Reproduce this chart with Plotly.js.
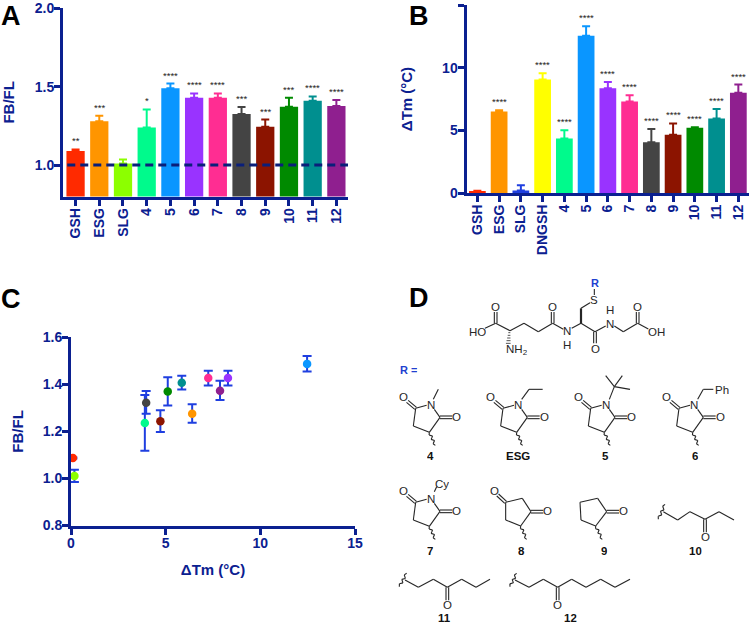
<!DOCTYPE html>
<html>
<head>
<meta charset="utf-8">
<script src="https://cdn.plot.ly/plotly-3.0.1.min.js"></script>
<style>html,body{margin:0;padding:0;background:#fff}#chart{width:750px;height:624px}</style>
</head>
<body>
<div id="chart"></div>
<script>
// ---------- data ----------
const labelsA = ['GSH','ESG','SLG','4','5','6','7','8','9','10','11','12'];
const fbFl    = [1.09,1.28,1.01,1.24,1.49,1.43,1.43,1.325,1.245,1.372,1.41,1.377];
const fbFlErr = [0.01,0.035,0.025,0.115,0.03,0.027,0.027,0.045,0.045,0.058,0.028,0.038];
const sigA    = ['**','***','','*','****','****','****','***','***','***','****','****'];
const colorsA = ['#ff2a00','#ff9500','#8cff00','#00fa8c','#0a96ff','#9933ff','#ff2d92','#444444','#8c1400','#008a00','#008f8f','#8f1f8f'];

const labelsB = ['GSH','ESG','SLG','DNGSH','4','5','6','7','8','9','10','11','12'];
const dTm     = [0.15,6.5,0.2,9.05,4.35,12.55,8.35,7.3,4.05,4.65,5.2,5.95,8.0];
const dTmErr  = [0.03,0.1,0.42,0.5,0.65,0.75,0.5,0.5,1.05,0.9,0.05,0.75,0.65];
const sigB    = ['','****','','****','****','****','****','****','****','****','****','****','****'];
const colorsB = ['#ff2a00','#ff9500','#1f3fe0','#ffff00','#00fa8c','#0a96ff','#9933ff','#ff2d92','#444444','#8c1400','#008a00','#008f8f','#8f1f8f'];

const xC      = [0.1,0.18,3.9,3.97,4.72,5.11,5.85,6.4,7.25,7.87,8.29,12.47];
const yC      = [1.087,1.01,1.236,1.322,1.243,1.37,1.407,1.275,1.427,1.373,1.427,1.487];
const yCUp    = [0.002,0.027,0.119,0.05,0.047,0.06,0.03,0.04,0.031,0.042,0.031,0.033];
const yCDown  = [0.002,0.025,0.118,0.047,0.046,0.06,0.029,0.038,0.032,0.04,0.032,0.032];
const colorsC = ['#ff2a00','#8cff00','#00fa8c','#444444','#8c1400','#008a00','#008f8f','#ff9500','#ff2d92','#8f1f8f','#9933ff','#0a96ff'];

// ---------- styles ----------
const FONT = '"Liberation Sans", Arial, sans-serif';
const NAVY = '#0b2090';
const W = 750, H = 624;
const dx = (a,b)=>[a/W,b/W];
const dy = (top,bot)=>[1-bot/H,1-top/H];
const tick = {family:FONT,size:14,color:NAVY,weight:700};
const axisBase = {showgrid:false,zeroline:false,showline:true,linecolor:NAVY,linewidth:3,
  ticks:'outside',ticklen:6,tickwidth:3,tickcolor:NAVY,tickfont:tick,fixedrange:true};
const titleFont = {family:FONT,size:15,color:NAVY,weight:700};

// ---------- traces ----------
const traces = [];
function barSet(labels,vals,errs,cols,xa,ya){
  labels.forEach((l,i)=>traces.push({type:'bar',x:[l],y:[vals[i]],width:0.77,xaxis:xa,yaxis:ya,
    marker:{color:cols[i],line:{width:0}},showlegend:false,hoverinfo:'skip',
    error_y:{type:'data',symmetric:false,array:[errs[i]],arrayminus:[0],color:cols[i],thickness:2,width:4}}));
}
barSet(labelsA,fbFl,fbFlErr,colorsA,'x','y');
barSet(labelsB,dTm,dTmErr,colorsB,'x2','y2');
xC.forEach((v,i)=>traces.push({type:'scatter',mode:'markers',x:[v],y:[yC[i]],xaxis:'x3',yaxis:'y3',
  marker:{color:colorsC[i],size:8.5},showlegend:false,hoverinfo:'skip',cliponaxis:false,
  error_y:{type:'data',symmetric:false,array:[yCUp[i]],arrayminus:[yCDown[i]],color:'#1f3fe0',thickness:2,width:4.5}}));

// ---------- annotations ----------
const ann = [];
function stars(labels,vals,errs,sig,xr,yr,shift){
  labels.forEach((l,i)=>{ if(sig[i]) ann.push({xref:xr,yref:yr,x:i,y:vals[i]+errs[i],text:sig[i],showarrow:false,
    yanchor:'bottom',yshift:shift,font:{family:FONT,size:9.5,color:'#222'}}); });
}
stars(labelsA,fbFl,fbFlErr,sigA,'x','y',1);
stars(labelsB,dTm,dTmErr,sigB,'x2','y2',1);

const pageText=(x,y,t,size,color,bold,boxH)=>ann.push({xref:'paper',yref:'paper',x:x/W,y:1-y/H,text:t,showarrow:false,
  xanchor:'center',yanchor:'middle',height:boxH,valign:'middle',borderpad:0,
  font:{family:FONT,size:size,color:color,weight:bold?700:400}});
[['A',11,15.5],['B',418.5,15.5],['C',11,299],['D',418.5,298]].forEach(a=>pageText(a[1],a[2],a[0],27,'#000',true,24));

// ---------- panel D: structure diagram, drawn in page pixels ----------
const shapes = [];
const INK='#262626', BLUE='#2040d0';
const A = (x,y)=>[375+x/3,290+y/3];   // upper part of the panel
const B = (x,y)=>[375+x/3,460+y/3];   // lower part of the panel
const px=p=>p[0]/W, py=p=>1-p[1]/H;
function line(o,pts,width){
  for(let i=0;i<pts.length-1;i++){
    const a=o(pts[i][0],pts[i][1]), b=o(pts[i+1][0],pts[i+1][1]);
    shapes.push({type:'line',xref:'paper',yref:'paper',x0:px(a),y0:py(a),x1:px(b),y1:py(b),line:{color:INK,width:width||1.1}});
  }
}
function dbl(o,p,q){
  const L=Math.hypot(q[0]-p[0],q[1]-p[1]), nx=-(q[1]-p[1])/L*4, ny=(q[0]-p[0])/L*4;
  line(o,[[p[0]+nx,p[1]+ny],[q[0]+nx,q[1]+ny]]);
  line(o,[[p[0]-nx,p[1]-ny],[q[0]-nx,q[1]-ny]]);
}
function wavy(o,p,q){
  const n=6, pts=[], L=Math.hypot(q[0]-p[0],q[1]-p[1]), nx=-(q[1]-p[1])/L*4, ny=(q[0]-p[0])/L*4;
  for(let i=0;i<=n;i++){ const t=i/n, s=(i===0||i===n)?0:(i%2?1:-1);
    pts.push([p[0]+(q[0]-p[0])*t+nx*s,p[1]+(q[1]-p[1])*t+ny*s]); }
  line(o,pts);
}
const atom=(o,x,y,t,boxH)=>{const p=o(x,y);pageText(p[0],p[1],t,11.5,INK,false,boxH||10.5);};
const name=(o,x,y,t)=>{const p=o(x,y);pageText(p[0],p[1]-1.5,t,11.5,'#111',true,10.5);};

// glutathione backbone
line(A,[[330,115],[362,100],[405,122],[447,100],[490,125],[533,100],[565,118]]);
line(A,[[590,115],[618,100],[660,125],[692,108]]);
line(A,[[718,108],[745,125],[788,100],[820,117]]);
line(A,[[618,55],[645,38]]);
line(A,[[658,15],[658,-3]]);
dbl(A,[362,100],[362,66]); dbl(A,[533,100],[533,66]); dbl(A,[660,125],[660,160]); dbl(A,[788,100],[788,66]);
line(A,[[618,100],[618,55]],2.2);
[128,136,144,152,160].forEach((y,i)=>line(A,[[402-i*0.8-2-i,y],[404-i*0.8+2+i,y]],0.8));
atom(A,308,127,'HO'); atom(A,360,52,'O'); atom(A,533,52,'O'); atom(A,575,125,'N'); atom(A,575,165,'H');
atom(A,425,180,'NH<sub>2</sub>',16); atom(A,658,30,'S'); atom(A,660,178,'O'); atom(A,705,103,'N'); atom(A,705,62,'H');
atom(A,788,52,'O'); atom(A,843,127,'OH');
pageText(595,283,'R',11,BLUE,true,10);
pageText(408,370,'R =',11,BLUE,true,10);

// N-substituted succinimide rings
function succ(o,ox,oy){
  const s=(x,y)=>[x+ox,y+oy];
  line(o,[s(122,355),s(115,408),s(163,427),s(195,382),s(178,358)]);
  line(o,[s(122,355),s(155,346)]);
  dbl(o,s(97,334),s(122,355)); dbl(o,s(195,382),s(232,382));
  wavy(o,s(163,427),s(181,466));
  atom(o,...s(85,323),'O'); atom(o,...s(168,345),'N'); atom(o,...s(245,382),'O');
}
succ(A,0,0); succ(A,262,0); succ(A,525,0); succ(A,790,0); succ(B,0,-228);
line(A,[[175,328],[190,298]]);
line(A,[[440,328],[462,298],[503,298]]);
line(A,[[703,328],[718,290],[692,257]]); line(A,[[718,290],[742,257]]); line(A,[[718,290],[765,298]]);
line(A,[[968,328],[985,298],[1015,298]]); atom(A,1040,300,'Ph');
line(B,[[178,95],[185,80]]); atom(B,202,72,'Cy',16);
name(A,165,505,'4'); name(A,428,505,'ESG'); name(A,692,505,'5'); name(A,960,505,'6');

// cyclopentanones
line(B,[[392,127],[442,115],[468,155],[437,198],[392,180],[392,127]]);
dbl(B,[368,105],[392,127]); dbl(B,[468,155],[505,155]); wavy(B,[437,198],[455,238]);
atom(B,358,95,'O'); atom(B,518,155,'O');
line(B,[[615,127],[668,115],[695,155],[662,198],[618,180],[615,127]]);
dbl(B,[695,155],[732,155]); wavy(B,[662,198],[682,238]); atom(B,745,155,'O');

// open chains
line(B,[[865,155],[908,180],[945,155],[990,178],[1032,155],[1077,180]]);
wavy(B,[870,133],[850,178]); dbl(B,[990,178],[990,217]); atom(B,990,232,'O');
line(B,[[90,360],[130,382],[175,358],[217,382],[260,358],[303,382],[345,358]]);
wavy(B,[95,340],[73,380]); dbl(B,[217,382],[217,421]); atom(B,217,435,'O');
line(B,[[420,360],[462,382],[505,358],[548,382],[590,358],[633,382],[677,358],[720,382],[765,358]]);
wavy(B,[425,340],[405,380]); dbl(B,[548,382],[548,421]); atom(B,548,435,'O');
name(B,165,278,'7'); name(B,438,278,'8'); name(B,688,278,'9'); name(B,962,278,'10'); name(B,207,480,'11'); name(B,585,480,'12');

// reference line of panel A
shapes.push({type:'line',xref:'x',yref:'y',x0:-0.35,x1:11.58,y0:1,y1:1,layer:'above',line:{color:'#0a1f7a',width:3,dash:'8px,5px'}});

// ---------- layout ----------
const layout = {
  width:W,height:H,margin:{l:0,r:0,t:0,b:0,pad:0},paper_bgcolor:'#fff',plot_bgcolor:'rgba(0,0,0,0)',
  barmode:'overlay',showlegend:false,font:{family:FONT},
  xaxis:Object.assign({},axisBase,{domain:dx(63,348),anchor:'y',type:'category',categoryorder:'array',categoryarray:labelsA,
    range:[-0.53,11.49],tickangle:-90,ticklabelstandoff:-3,tickfont:Object.assign({},tick,{size:14})}),
  yaxis:Object.assign({},axisBase,{domain:dy(8.2,196.5),anchor:'x',range:[0.8,2.0],tickvals:[1,1.5,2],tickformat:'.1f',ticklabelstandoff:-3,
    title:{text:'FB/FL',standoff:20,font:titleFont}}),
  xaxis2:Object.assign({},axisBase,{domain:dx(466.5,749),anchor:'y2',type:'category',categoryorder:'array',categoryarray:labelsB,
    range:[-0.5,12.49],tickangle:-90,ticklabelstandoff:-3,tickfont:Object.assign({},tick,{size:14})}),
  yaxis2:Object.assign({},axisBase,{domain:dy(5,193),anchor:'x2',range:[0,15],tickvals:[0,5,10,15],ticklabelstandoff:-3,
    title:{text:'ΔTm (°C)',standoff:26,font:titleFont}}),
  xaxis3:Object.assign({},axisBase,{domain:dx(71,355),anchor:'y3',range:[0,15],tickvals:[0,5,10,15],ticklabelstandoff:-3,
    title:{text:'ΔTm (°C)',standoff:15,font:titleFont}}),
  yaxis3:Object.assign({},axisBase,{domain:dy(337.3,525.5),anchor:'x3',range:[0.8,1.6],tickvals:[0.8,1,1.2,1.4,1.6],tickformat:'.1f',ticklabelstandoff:-3,
    title:{text:'FB/FL',standoff:16,font:titleFont}}),
  annotations:ann,shapes:shapes
};
Plotly.newPlot('chart',traces,layout,{displayModeBar:false,staticPlot:true});
</script>
</body>
</html>
